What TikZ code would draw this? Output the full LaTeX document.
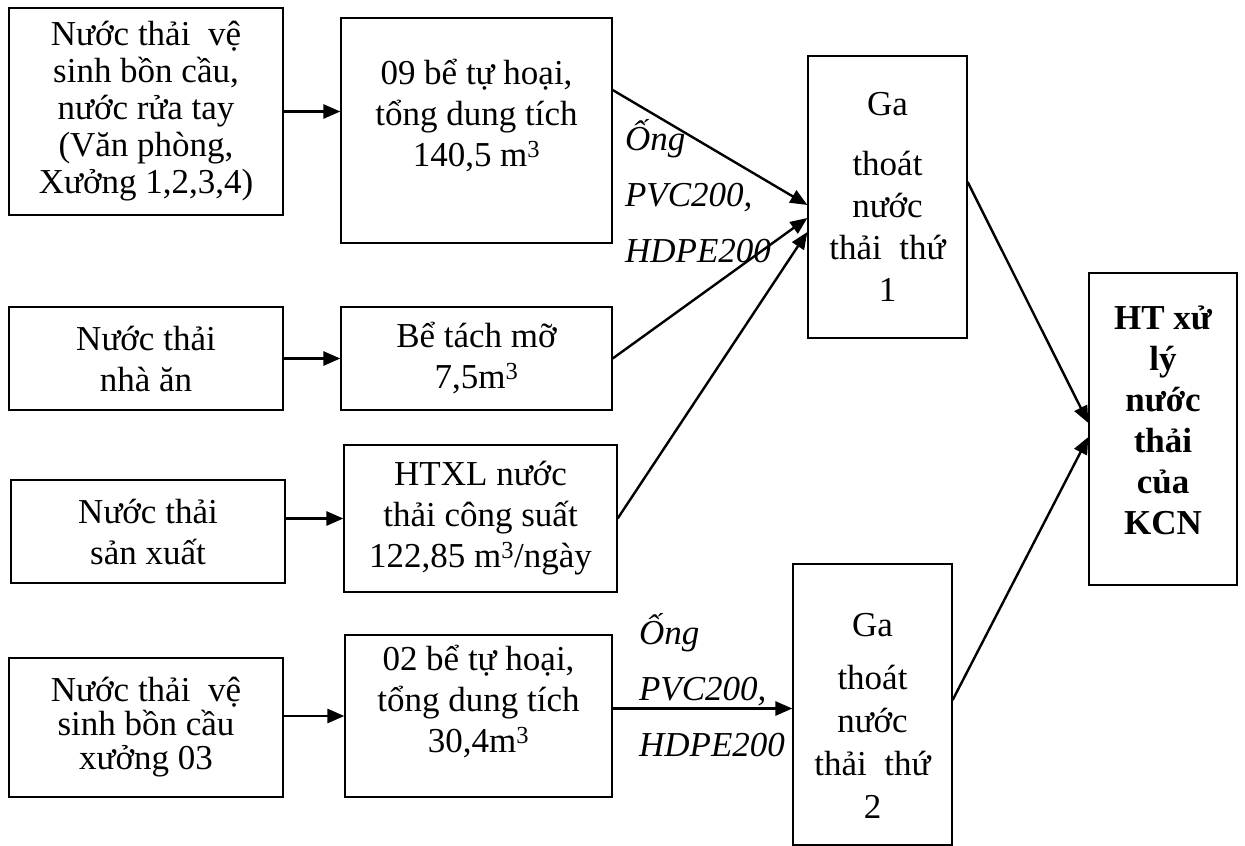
\documentclass[tikz,border=0pt]{standalone}
\usepackage{fontspec}
\setmainfont{Liberation Serif}
\usetikzlibrary{positioning, arrows.meta}

\tikzset{
  box/.style={draw, line width=1.3pt, align=center, inner sep=0pt,
    font=\fontsize{35}{41}\selectfont},
  pipe/.style={align=left, inner sep=0pt, font=\fontsize{35}{56}\selectfont\itshape},
  flow/.style={-{Triangle[length=17pt,width=14pt]}, line width=2.4pt},
}

\begin{document}
\begin{tikzpicture}[x=1pt, y=-1pt, on grid]
   \useasboundingbox (0,0) rectangle (1245,846);

   % sources
   \node[box, minimum width=274pt, minimum height=207pt, font=\fontsize{35}{37}\selectfont] (a1) at (146,111.5)
      {Nước thải~~vệ\\sinh bồn cầu,\\nước rửa tay\\(Văn phòng,\\Xưởng 1,2,3,4)};
   \node[box, minimum width=274pt, minimum height=103pt] (a2) [below=247pt of a1] {Nước thải\\nhà ăn};
   \node[box, minimum width=274pt, minimum height=103pt] (a3) [below right=173pt and 2pt of a2] {Nước thải\\sản xuất};
   \node[box, minimum width=274pt, minimum height=139pt, font=\fontsize{35}{34}\selectfont] (a4) [below left=196pt and 2pt of a3]
      {Nước thải~~vệ\\sinh bồn cầu\\xưởng 03};

   % treatment
   \node[box, minimum width=271pt, minimum height=225pt, text depth=35pt] (b1) [below right=19pt and 330.5pt of a1]
      {09 bể tự hoại,\\tổng dung tích\\140,5 m\textsuperscript{3}};
   \node[box, minimum width=271pt, minimum height=103pt] (b2) [right=330.5pt of a2] {Bể tách mỡ\\7,5m\textsuperscript{3}};
   \node[box, minimum width=273pt, minimum height=147pt] (b3) [above right=13pt and 332.5pt of a3]
      {HTXL nước\\thải công suất\\122,85 m\textsuperscript{3}/ngày};
   \node[box, minimum width=267pt, minimum height=162pt, text depth=35pt] (b4) [above right=11.5pt and 332.5pt of a4]
      {02 bể tự hoại,\\tổng dung tích\\30,4m\textsuperscript{3}};

   % collection pits and KCN plant
   \node[box, minimum width=159pt, minimum height=282pt, font=\fontsize{35}{42}\selectfont] (g1) [below right=66.5pt and 411pt of b1]
      {Ga\\[18pt]thoát\\nước\\thải~~thứ\\1};
   \node[box, minimum width=159pt, minimum height=281pt, font=\fontsize{35}{43}\selectfont] (g2) [above right=11.5pt and 394pt of b4]
      {\rule{0pt}{45pt}Ga\\[10pt]thoát\\nước\\thải~~thứ\\2};
   \node[box, minimum width=148pt, minimum height=312pt, text depth=18pt, font=\fontsize{35}{41}\selectfont\bfseries] (ht) [below right=232pt and 275.5pt of g1]
      {HT xử\\lý\\nước\\thải\\của\\KCN};

   % pipe labels
   \node[pipe] (pipe1) at (698,191) {Ống\\PVC200,\\HDPE200};
   \node[pipe] (pipe2) at (712,685) {Ống\\PVC200,\\HDPE200};

   \draw[flow, line width=2.8pt] (a1.east) -- (a1.east -| b1.west);
   \draw[flow, line width=2.8pt] (a2.east) -- (b2.west);
   \draw[flow, line width=2.8pt] (b3.west -| a3.east) -- (b3.west);
   \draw[flow, line width=2.8pt] (b4.west -| a4.east) -- (b4.west);

   \draw[flow] ([yshift=40.5pt]b1.east) -- ([yshift=-8pt]g1.west);
   \draw[flow] (b2.east) -- ([yshift=-21pt]g1.west);
   \draw[flow] (b3.east) -- ([yshift=-35pt]g1.west);
   \draw[flow, line width=2.8pt] ([yshift=-4pt]g2.west -| b4.east) -- ([yshift=-4pt]g2.west);

   \draw[flow] ([yshift=15pt]g1.east) -- ([yshift=6pt]ht.west);
   \draw[flow] ([yshift=4.5pt]g2.east) -- ([yshift=-8pt]ht.west);
\end{tikzpicture}
\end{document}
